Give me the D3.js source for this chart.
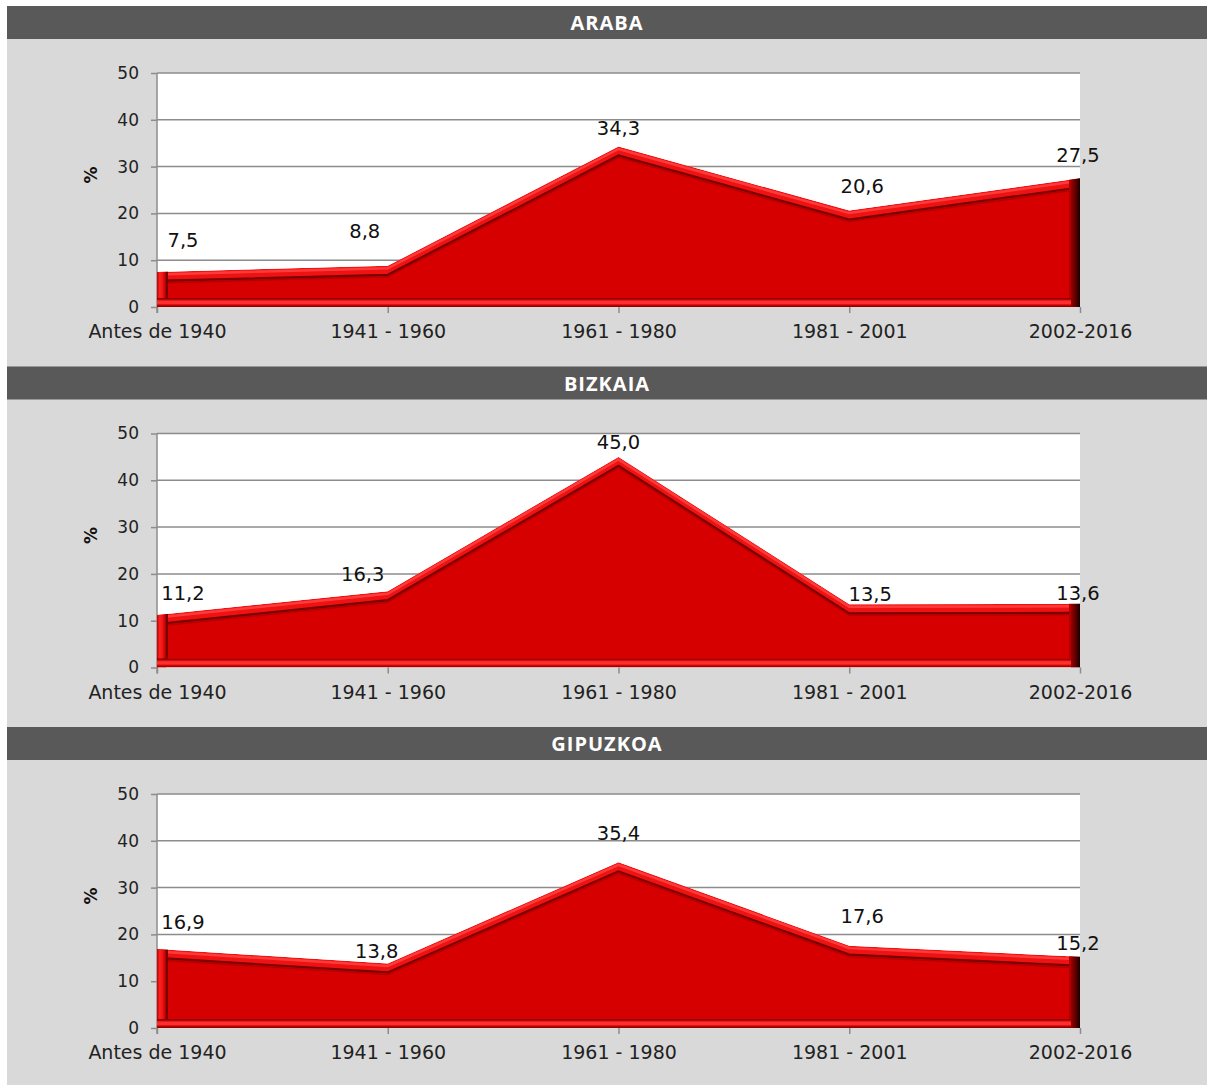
<!DOCTYPE html>
<html><head><meta charset="utf-8">
<script src="https://cdn.jsdelivr.net/npm/d3@7"></script>
<style>body{margin:0;background:#fff}svg{display:block}</style>
</head><body><svg id="c" width="1207" height="1085"></svg>
<script>
const categories = ["Antes de 1940", "1941 - 1960", "1961 - 1980", "1981 - 2001", "2002-2016"];
const regions = ["ARABA", "BIZKAIA", "GIPUZKOA"];
const arabaValues = [7.5, 8.8, 34.3, 20.6, 27.5];
const bizkaiaValues = [11.2, 16.3, 45.0, 13.5, 13.6];
const gipuzkoaValues = [16.9, 13.8, 35.4, 17.6, 15.2];
const yTicks = [0, 10, 20, 30, 40, 50];
const yAxisTitle = "%";

// label offsets (styling, px) [dx, dy above point]
const labelOffsets = [
  [[26, 32], [-23, 35], [0, 18], [13, 24], [-2, 23]],
  [[26, 22], [-25, 17], [0, 15], [21, 10], [-2, 11]],
  [[26, 27], [-11, 12], [0, 29], [13, 29], [-2, 14]]
];
const seriesList = [arabaValues, bizkaiaValues, gipuzkoaValues];

const svg = d3.select("#c");
const defs = svg.append("defs");
svg.append("rect").attr("x", 7).attr("y", 6).attr("width", 1200).attr("height", 1079).attr("fill", "#d9d9d9");

const gb = defs.append("linearGradient").attr("id", "gBottom").attr("x1", 0).attr("x2", 0).attr("y1", 0).attr("y2", 1);
[[0, "#7a0000"], [0.15, "#b00000"], [0.35, "#ff2c2c"], [0.6, "#ff3030"], [0.8, "#c80000"], [1, "#7a0000"]]
  .forEach(([o, c]) => gb.append("stop").attr("offset", o).attr("stop-color", c));
const gr = defs.append("linearGradient").attr("id", "gRight").attr("x1", 0).attr("x2", 1).attr("y1", 0).attr("y2", 0);
[[0, "#9a0000"], [0.5, "#600000"], [1, "#1a0000"]]
  .forEach(([o, c]) => gr.append("stop").attr("offset", o).attr("stop-color", c));
const gl = defs.append("linearGradient").attr("id", "gLeft").attr("x1", 0).attr("x2", 1).attr("y1", 0).attr("y2", 0);
[[0, "#c00000"], [0.3, "#ff2222"], [0.7, "#e51010"], [1, "#a00000"]]
  .forEach(([o, c]) => gl.append("stop").attr("offset", o).attr("stop-color", c));

const x = d3.scalePoint().domain(categories).range([157, 1080]);
const font = "'DejaVu Sans', sans-serif";
const bev = 9;

seriesList.forEach((vals, pi) => {
  const off = pi * 360.5;
  const g = svg.append("g").attr("transform", `translate(0,${off})`);
  g.append("rect").attr("x", 7).attr("y", 6).attr("width", 1200).attr("height", 33).attr("fill", "#595959");
  g.append("text").attr("x", 607).attr("y", 23).attr("dy", "0.36em").attr("text-anchor", "middle")
    .attr("fill", "#fff").attr("font-family", "'Open Sans', sans-serif").attr("font-weight", "bold")
    .attr("font-size", 20).attr("letter-spacing", 1).text(regions[pi]);

  const y = d3.scaleLinear().domain([0, 50]).range([307, 73]);
  g.append("rect").attr("x", 157).attr("y", 73).attr("width", 923).attr("height", 234).attr("fill", "#fff");
  g.append("g").selectAll("line").data(yTicks.filter(d => d > 0)).join("line")
    .attr("x1", 157).attr("x2", 1080).attr("y1", d => y(d)).attr("y2", d => y(d))
    .attr("stroke", "#8c8c8c").attr("stroke-width", 1.5);
  const ya = g.append("g").attr("transform", "translate(157,0)")
    .call(d3.axisLeft(y).tickValues(yTicks).tickSize(6).tickPadding(12).tickFormat(d3.format("d")));
  ya.select(".domain").attr("stroke", "#8c8c8c").attr("stroke-width", 1.5).attr("d", "M0,73V313");
  ya.selectAll(".tick line").attr("stroke", "#8c8c8c").attr("stroke-width", 1.5);
  ya.selectAll("text").attr("font-family", font).attr("font-size", 17).attr("fill", "#222");
  const xa = g.append("g").attr("transform", "translate(0,307)")
    .call(d3.axisBottom(x).tickSize(6).tickPadding(12));
  xa.select(".domain").remove();
  xa.selectAll(".tick line").attr("stroke", "#8c8c8c").attr("stroke-width", 1.5);
  xa.selectAll("text").attr("font-family", font).attr("font-size", 19).attr("fill", "#222");
  g.append("text").attr("transform", "translate(91,175) rotate(-90)").attr("text-anchor", "middle")
    .attr("dy", "0.35em").attr("font-family", font).attr("font-weight", "bold").attr("font-size", 17)
    .attr("fill", "#111").text(yAxisTitle);

  const data = categories.map((c, i) => ({c, v: vals[i]}));
  const area = d3.area().x(d => x(d.c)).y0(y(0)).y1(d => y(d.v));
  const line = d3.line().x(d => x(d.c)).y(d => y(d.v));
  const y0 = y(0);
  const cid = "clip" + pi;
  defs.append("clipPath").attr("id", cid).append("path").attr("d", area(data));
  const iid = "inner" + pi;
  defs.append("clipPath").attr("id", iid).append("rect")
    .attr("x", 157 + bev).attr("y", 0).attr("width", 923 - 2 * bev).attr("height", y0 - bev);
  const ag = g.append("g").attr("clip-path", `url(#${cid})`);
  ag.append("path").attr("d", area(data)).attr("fill", "#ee1212");
  ag.append("path").attr("d", line(data)).attr("transform", "translate(0,2.5)")
    .attr("fill", "none").attr("stroke", "#ff3a3a").attr("stroke-width", 2.5);
  ag.append("rect").attr("x", 157).attr("y", 60).attr("width", bev).attr("height", 250).attr("fill", "url(#gLeft)");
  ag.append("rect").attr("x", 157).attr("y", y0 - bev).attr("width", 923).attr("height", bev).attr("fill", "url(#gBottom)");
  ag.append("rect").attr("x", 1080 - bev).attr("y", 60).attr("width", bev).attr("height", 250).attr("fill", "url(#gRight)");
  const ig = ag.append("g").attr("clip-path", `url(#${iid})`);
  ig.append("path").attr("d", area(data)).attr("transform", `translate(0,${bev})`).attr("fill", "#d60000");
  ig.append("path").attr("d", line(data)).attr("transform", `translate(0,${bev})`)
    .attr("fill", "none").attr("stroke", "#7a0000").attr("stroke-width", 2.2);
  ig.append("path").attr("d", line(data)).attr("transform", `translate(0,${bev + 2})`)
    .attr("fill", "none").attr("stroke", "#b40000").attr("stroke-width", 1.5);
  ig.append("rect").attr("x", 157 + bev).attr("y", 60).attr("width", 2).attr("height", 250).attr("fill", "#7a0000");
  ig.append("rect").attr("x", 1080 - bev - 2).attr("y", 60).attr("width", 2).attr("height", 250).attr("fill", "#b00000");

  g.append("g").selectAll("text").data(data).join("text")
    .attr("x", (d, i) => x(d.c) + labelOffsets[pi][i][0])
    .attr("y", (d, i) => y(d.v) - labelOffsets[pi][i][1])
    .attr("dy", "0.35em").attr("text-anchor", "middle")
    .attr("font-family", font).attr("font-size", 19.5).attr("fill", "#111")
    .text(d => d3.format(".1f")(d.v).replace(".", ","));
});
</script></body></html>
